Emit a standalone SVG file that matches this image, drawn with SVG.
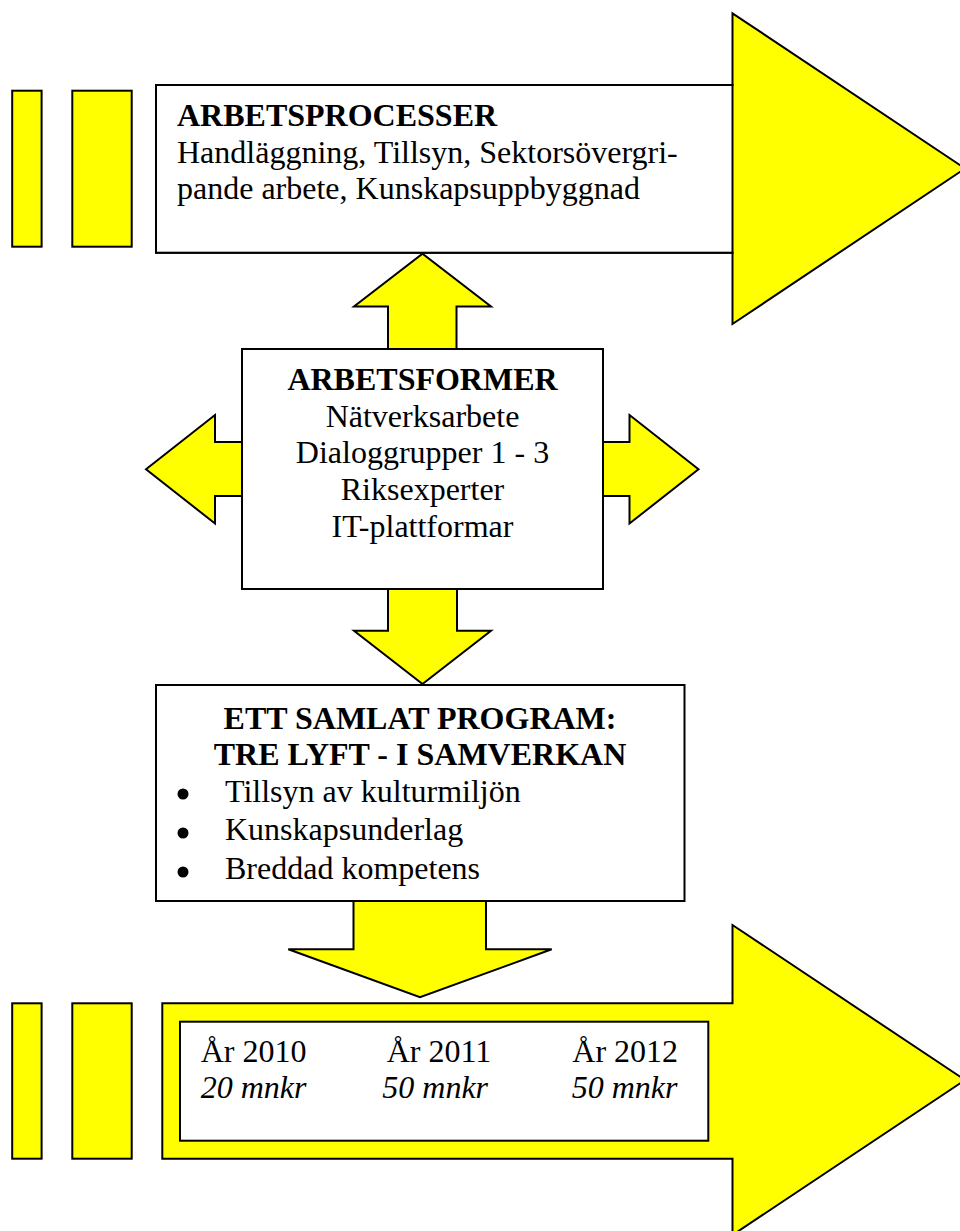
<svg xmlns="http://www.w3.org/2000/svg" width="960" height="1231" viewBox="0 0 960 1231">
<style>
.y{fill:#FFFF00;stroke:#000;stroke-width:2;stroke-linejoin:miter}
.w{fill:#FFFFFF;stroke:#000;stroke-width:2}
text{font-family:"Liberation Serif","Times New Roman",serif;font-size:32px;fill:#000}
.b{font-weight:bold}
.i{font-style:italic}
.c{text-anchor:middle}
</style>
<rect width="960" height="1231" fill="#FFFFFF"/>
<g id="top-bars">
<rect class="y" x="12.2" y="90.7" width="29.4" height="156"/>
<rect class="y" x="72.3" y="90.7" width="59.4" height="156"/>
</g>
<g id="arbetsprocesser">
<polygon class="y" points="156,85 732.5,85 732.5,13.3 965,168.5 732.5,324 732.5,252.7 156,252.7"/>
<rect class="w" x="156" y="85" width="576.5" height="167.7"/>
<text class="b" x="177" y="125.7">ARBETSPROCESSER</text>
<text x="177" y="162.5">Handläggning, Tillsyn, Sektorsövergri-</text>
<text x="177" y="199">pande arbete, Kunskapsuppbyggnad</text>
</g>
<g id="arbetsformer">
<rect class="w" x="242" y="349" width="361" height="240"/>
<text class="b c" x="422.5" y="390">ARBETSFORMER</text>
<text class="c" x="422.5" y="426.5">Nätverksarbete</text>
<text class="c" x="422.5" y="463">Dialoggrupper 1 - 3</text>
<text class="c" x="422.5" y="500">Riksexperter</text>
<text class="c" x="422.5" y="536.5">IT-plattformar</text>
</g>
<g id="program">
<rect class="w" x="156" y="685" width="528.5" height="216"/>
<text class="b c" x="420" y="729">ETT SAMLAT PROGRAM:</text>
<text class="b c" x="420" y="765">TRE LYFT - I SAMVERKAN</text>
<circle cx="183" cy="794" r="5.5" fill="#000"/>
<circle cx="183" cy="833" r="5.5" fill="#000"/>
<circle cx="183" cy="872" r="5.5" fill="#000"/>
<text x="225" y="801.5">Tillsyn av kulturmiljön</text>
<text x="225" y="840">Kunskapsunderlag</text>
<text x="225" y="879">Breddad kompetens</text>
</g>
<g id="bottom-bars">
<rect class="y" x="12.2" y="1003.3" width="29.4" height="155.4"/>
<rect class="y" x="72.3" y="1003.3" width="59.4" height="155.4"/>
</g>
<g id="tidsplan">
<polygon class="y" points="162.3,1003.3 732.5,1003.3 732.5,925 965,1080 732.5,1235 732.5,1158.7 162.3,1158.7"/>
<rect class="w" x="180" y="1021.7" width="528.3" height="119"/>
<text x="200.7" y="1062.3">År 2010</text>
<text class="i" x="200.7" y="1098.3">20 mnkr</text>
<text x="386.7" y="1062.3">År 2011</text>
<text class="i" x="382.3" y="1098.3">50 mnkr</text>
<text x="572.3" y="1062.3">År 2012</text>
<text class="i" x="571.7" y="1098.3">50 mnkr</text>
</g>
<g id="connectors">
<polygon class="y" points="422.5,253.7 491,306.5 456.5,306.5 456.5,349 388,349 388,306.5 354,306.5"/>
<polygon class="y" points="146,469.3 215,415 215,442 242,442 242,496 215,496 215,523.5"/>
<polygon class="y" points="698.5,469.3 629.5,415 629.5,442 603,442 603,496 629.5,496 629.5,523.5"/>
<polygon class="y" points="388,589 457,589 457,630.7 491,630.7 422.5,684 354,630.7 388,630.7"/>
<polygon class="y" points="353.5,901 486,901 486,949.3 551.7,949.3 420,997.3 288.3,949.3 353.5,949.3"/>
</g>
</svg>
